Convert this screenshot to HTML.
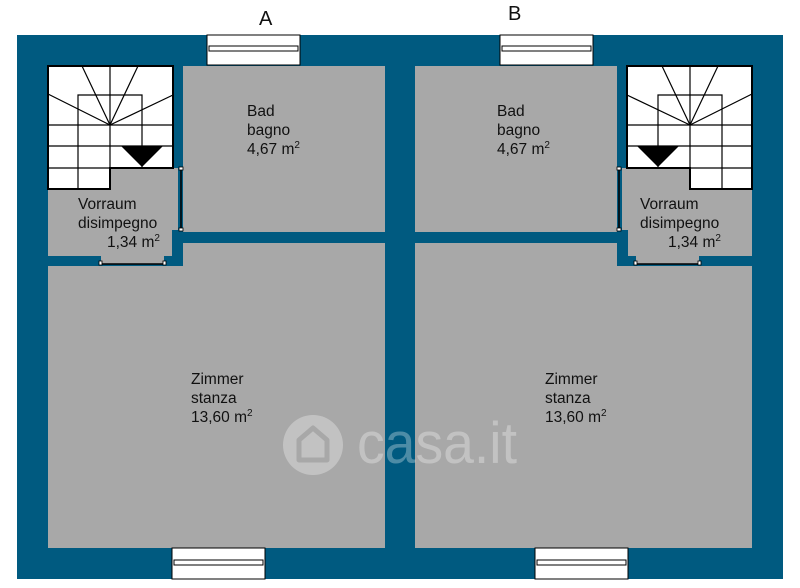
<!DOCTYPE html>
<html><head><meta charset="utf-8"><style>
html,body{margin:0;padding:0;background:#fff;width:800px;height:588px;overflow:hidden}
svg{display:block}
text{font-family:"Liberation Sans",sans-serif;fill:#111}
</style></head><body>
<svg width="800" height="588" viewBox="0 0 800 588" xmlns="http://www.w3.org/2000/svg">
<defs>
<g id="unit">
  <rect x="183" y="66" width="202" height="166" fill="#a8a8a8"/>
  <rect x="48" y="266" width="337" height="282" fill="#a8a8a8"/>
  <rect x="183" y="243" width="202" height="24" fill="#a8a8a8"/>
  <rect x="48" y="168" width="130" height="62" fill="#a8a8a8"/>
  <rect x="48" y="168" width="124" height="88" fill="#a8a8a8"/>
  <rect x="101" y="250" width="63" height="14" fill="#a8a8a8"/>
  <line x1="101" y1="264" x2="164" y2="264" stroke="#000" stroke-width="1.5"/>
  <rect x="99" y="261" width="3" height="4" fill="#fff" stroke="#000" stroke-width="0.8"/>
  <rect x="163" y="261" width="3" height="4" fill="#fff" stroke="#000" stroke-width="0.8"/>
  <line x1="181" y1="169" x2="181" y2="230" stroke="#000" stroke-width="1.5"/>
  <rect x="179" y="167" width="4" height="3" fill="#fff" stroke="#000" stroke-width="0.8"/>
  <rect x="179" y="228" width="4" height="3" fill="#fff" stroke="#000" stroke-width="0.8"/>
  <path d="M48 66 H173 V168 H110 V189 H48 Z" fill="#fff" stroke="#000" stroke-width="2"/>
  <g stroke="#000" stroke-width="1.2" fill="none">
    <path d="M78 189 V95 H142 V168"/>
    <line x1="110" y1="66" x2="110" y2="189"/>
    <line x1="48" y1="125" x2="173" y2="125"/>
    <line x1="48" y1="146" x2="173" y2="146"/>
    <line x1="48" y1="168" x2="110" y2="168"/>
    <line x1="110" y1="125" x2="82" y2="66"/>
    <line x1="110" y1="125" x2="138" y2="66"/>
    <line x1="110" y1="125" x2="48" y2="94"/>
    <line x1="110" y1="125" x2="173" y2="95"/>
  </g>
  <polygon points="121,146 163,146 142,167" fill="#000"/>
  <rect x="207" y="35" width="93" height="30" fill="#fff" stroke="#000" stroke-width="1"/>
  <rect x="209" y="46" width="89" height="5" fill="#fff" stroke="#000" stroke-width="1"/>
  <rect x="172" y="548" width="93" height="31" fill="#fff" stroke="#000" stroke-width="1"/>
  <rect x="174" y="560" width="89" height="5" fill="#fff" stroke="#000" stroke-width="1"/>
</g>
</defs>
<rect x="17" y="35" width="766" height="544" fill="#005a80"/>
<use href="#unit"/>
<use href="#unit" transform="matrix(-1,0,0,1,800,0)"/>

<text x="259" y="25" font-size="20">A</text>
<text x="508" y="20" font-size="20">B</text>

<g font-size="15.5">
<text x="247" y="116">Bad</text>
<text x="247" y="135">bagno</text>
<text x="247" y="154">4,67 m<tspan font-size="10" dy="-6">2</tspan></text>
<text x="78" y="209">Vorraum</text>
<text x="78" y="228">disimpegno</text>
<text x="107" y="247">1,34 m<tspan font-size="10" dy="-6">2</tspan></text>
<text x="191" y="384">Zimmer</text>
<text x="191" y="403">stanza</text>
<text x="191" y="422">13,60 m<tspan font-size="10" dy="-6">2</tspan></text>

<text x="497" y="116">Bad</text>
<text x="497" y="135">bagno</text>
<text x="497" y="154">4,67 m<tspan font-size="10" dy="-6">2</tspan></text>
<text x="640" y="209">Vorraum</text>
<text x="640" y="228">disimpegno</text>
<text x="668" y="247">1,34 m<tspan font-size="10" dy="-6">2</tspan></text>
<text x="545" y="384">Zimmer</text>
<text x="545" y="403">stanza</text>
<text x="545" y="422">13,60 m<tspan font-size="10" dy="-6">2</tspan></text>
</g>

<g opacity="0.3">
<circle cx="313" cy="445" r="30" fill="#fff"/>
<path d="M299 460 V440 L313 428 L327 440 V460 Z" fill="none" stroke="#a8a8a8" stroke-width="5" stroke-linejoin="round"/>
<text x="357" y="463" font-size="58" style="fill:#fff;font-family:'Liberation Sans Narrow','Liberation Sans',sans-serif" textLength="160" lengthAdjust="spacingAndGlyphs">casa.it</text>
</g>
</svg>
</body></html>
